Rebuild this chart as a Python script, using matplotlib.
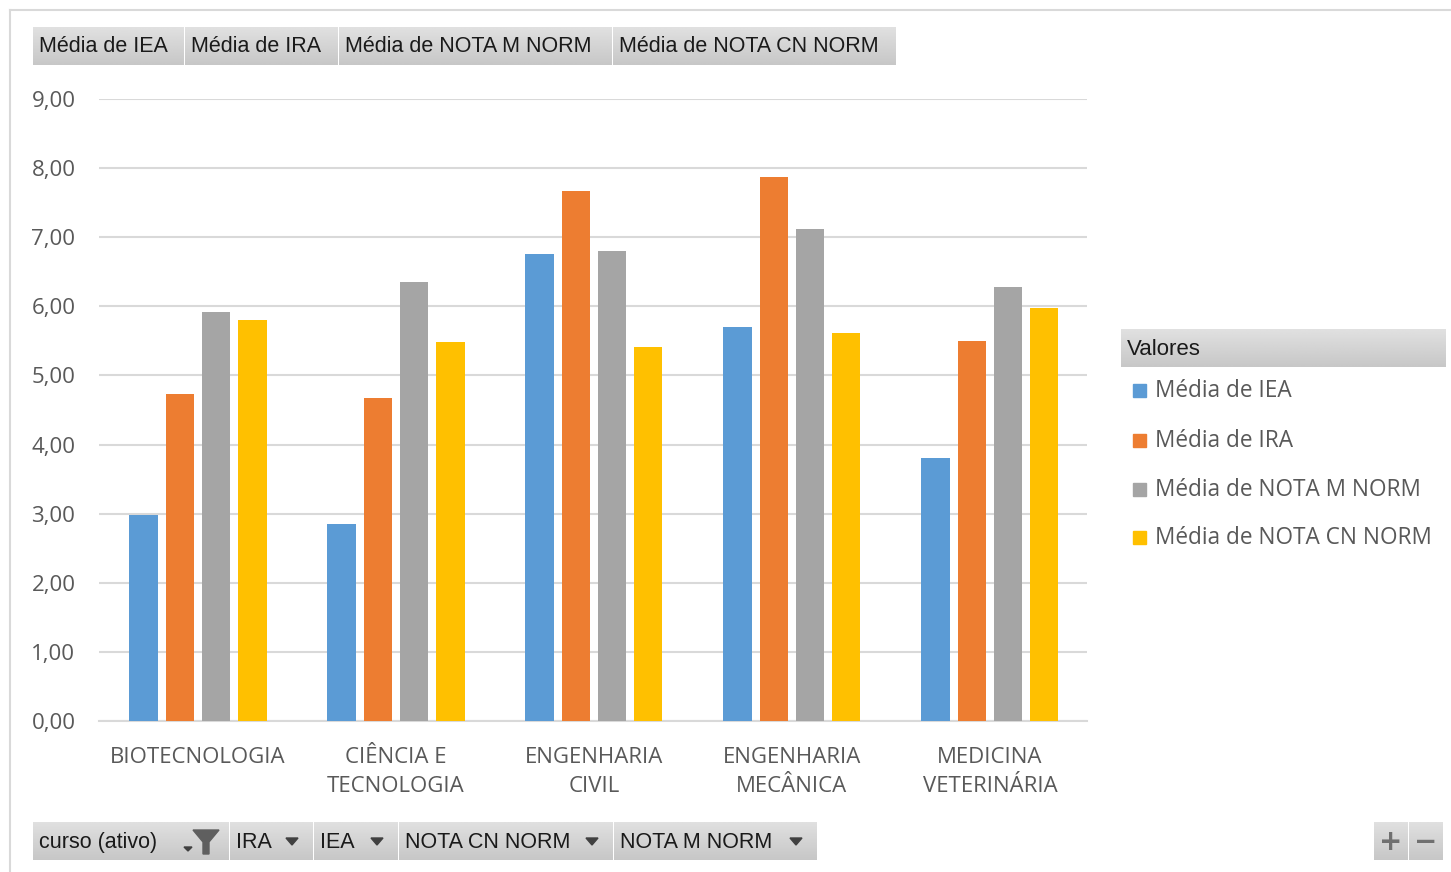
import numpy as np
import matplotlib
matplotlib.use("Agg")
import matplotlib.pyplot as plt
from matplotlib.patches import Rectangle, Polygon

# data
cursos = ["BIOTECNOLOGIA", "CIÊNCIA E\nTECNOLOGIA", "ENGENHARIA\nCIVIL",
          "ENGENHARIA\nMECÂNICA", "MEDICINA\nVETERINÁRIA"]
series = ["Média de IEA", "Média de IRA", "Média de NOTA M NORM", "Média de NOTA CN NORM"]
iea = [2.98, 2.85, 6.76, 5.70, 3.81]
ira = [4.73, 4.67, 7.67, 7.87, 5.50]
nota_m = [5.92, 6.35, 6.80, 7.12, 6.28]
nota_cn = [5.80, 5.48, 5.41, 5.61, 5.98]
yticks = [0, 1, 2, 3, 4, 5, 6, 7, 8, 9]

colors = ["#5B9BD5", "#ED7D31", "#A5A5A5", "#FFC000"]
top_buttons = ["Média de IEA", "Média de IRA", "Média de NOTA M NORM", "Média de NOTA CN NORM"]
bottom_buttons = ["curso (ativo)", "IRA", "IEA", "NOTA CN NORM", "NOTA M NORM"]

W, H = 1451, 872
fig = plt.figure(figsize=(W / 100, H / 100), dpi=100)
fig.patch.set_facecolor("white")

main_font = ["Open Sans", "DejaVu Sans"]
btn_font = ["Liberation Sans Narrow", "Liberation Sans", "DejaVu Sans"]


def fx(px):
    return px / W


def fy(py):
    return 1 - py / H


# outer chart frame
fig.add_artist(plt.Line2D([fx(10), fx(10)], [fy(10), fy(872)], color="#d9d9d9", lw=1.5))
fig.add_artist(plt.Line2D([fx(10), fx(1451)], [fy(10), fy(10)], color="#d9d9d9", lw=1.5))

ax = fig.add_axes([fx(99), fy(721), fx(1087 - 99), (721 - 99) / H])
x = np.arange(len(cursos))
step = 0.182
width = 0.146
for i, (vals, c) in enumerate(zip([iea, ira, nota_m, nota_cn], colors)):
    ax.bar(x + (i - 1.5) * step, vals, width, color=c, zorder=3)

ax.set_xlim(-0.5, 4.49)
ax.set_ylim(0, 9)
ax.set_yticks(yticks)
ax.set_yticklabels([f"{v:.2f}".replace(".", ",") for v in yticks])
ax.set_xticks(x)
ax.set_xticklabels(cursos, linespacing=1.5)
ax.grid(axis="y", color="#d9d9d9", lw=1.5, zorder=0)
for s in ["top", "right", "left"]:
    ax.spines[s].set_visible(False)
ax.spines["bottom"].set_color("#d9d9d9")
ax.spines["bottom"].set_linewidth(1.5)
ax.tick_params(axis="both", length=0, colors="#595959", labelsize=16)
ax.tick_params(axis="y", pad=17)
ax.tick_params(axis="x", pad=19)
for t in ax.get_xticklabels() + ax.get_yticklabels():
    t.set_family(main_font)

grad = np.linspace(0.88, 0.78, 50).reshape(-1, 1)


def button(x0, y0, x1, y1, text=None, size=15.5):
    bax = fig.add_axes([fx(x0), fy(y1), fx(x1 - x0), (y1 - y0) / H])
    bax.imshow(grad, cmap="gray", vmin=0, vmax=1, aspect="auto", extent=[0, 1, 0, 1])
    bax.set_axis_off()
    if text:
        fig.text(fx(x0 + 6), fy((y0 + y1) / 2 + 1), text, fontsize=size, va="center",
                 ha="left", color="#1a1a1a", family=btn_font)
    return bax


# field buttons on top
top_edges = [33, 185, 339, 613, 897]
for i, lab in enumerate(top_buttons):
    button(top_edges[i], 27, top_edges[i + 1] - 1, 65, lab)

# field buttons at the bottom
bot_edges = [33, 230, 314, 399, 614, 818]
for i, lab in enumerate(bottom_buttons):
    button(bot_edges[i], 822, bot_edges[i + 1] - 1, 860, lab)
    if i > 0:
        ax_x = bot_edges[i + 1] - 22
        fig.add_artist(Polygon([[fx(ax_x - 6), fy(838)], [fx(ax_x + 6), fy(838)], [fx(ax_x), fy(845)]],
                               closed=True, color="#404040"))

# filter icon
fig.add_artist(Polygon([[fx(193), fy(830)], [fx(219), fy(830)], [fx(209), fy(842)],
                        [fx(209), fy(854)], [fx(203), fy(854)], [fx(203), fy(842)]],
                       closed=True, color="#5f5f5f"))
fig.add_artist(Polygon([[fx(184), fy(847)], [fx(192), fy(847)], [fx(188), fy(851)]],
                       closed=True, color="#404040"))

# plus / minus buttons
button(1374, 822, 1408, 860)
button(1409, 822, 1443, 860)
fig.text(fx(1391), fy(842), "+", fontsize=20, ha="center", va="center", color="#707070",
         fontweight="bold")
fig.text(fx(1426), fy(842), "−", fontsize=20, ha="center", va="center", color="#707070",
         fontweight="bold")

# legend
button(1121, 329, 1446, 367, "Valores", size=16)
leg_y = [391, 441, 490, 538]
for lab, c, yy in zip(series, colors, leg_y):
    fig.add_artist(Rectangle((fx(1133), fy(yy + 6)), fx(13), 13 / H, color=c))
    fig.text(fx(1155), fy(yy), lab, fontsize=16.3, va="center", ha="left",
             color="#595959", family=main_font)

fig.savefig("out.png", dpi=100)
